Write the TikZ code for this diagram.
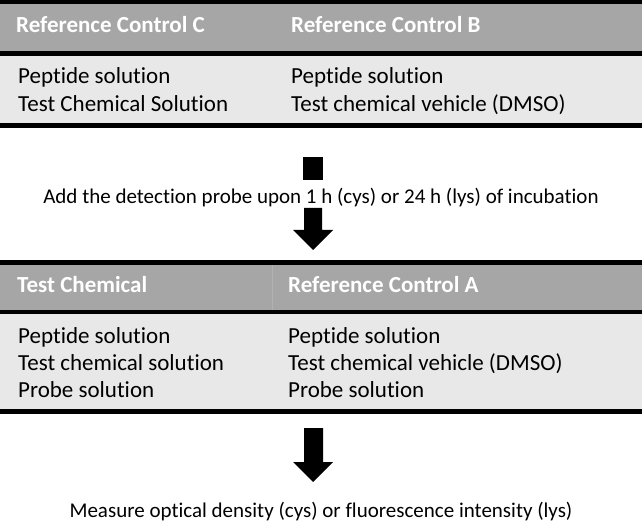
\documentclass[tikz,border=0pt]{standalone}
\usepackage{fontspec}
\setmainfont{Carlito}[Ligatures={NoCommon}]
\definecolor{hdrgray}{HTML}{A6A6A6}
\definecolor{bodygray}{HTML}{E8E8E8}
\definecolor{divgray}{HTML}{B2B2B2}
\begin{document}
\begin{tikzpicture}[x=1pt,y=-1pt,
  rule/.style={fill=black},
  hdr/.style={fill=hdrgray},
  bodyband/.style={fill=bodygray},
  hdrtext/.style={anchor=base west,inner sep=0pt,text=white,font=\fontsize{23}{28}\selectfont\bfseries},
  celltext/.style={anchor=base west,inner sep=0pt,text=black,font=\fontsize{23}{28}\selectfont},
  steptext/.style={anchor=base,inner sep=0pt,text=black,font=\fontsize{21}{26}\selectfont},
  blockarrow/.style={fill=black}]
\useasboundingbox (0,0) rectangle (642,521);
% ---- table 1
\fill[rule] (0,0) rectangle (642,4);
\fill[hdr] (0,4) rectangle (642,51);
\fill[rule] (0,51) rectangle (642,56);
\fill[bodyband] (0,56) rectangle (642,123);
\fill[rule] (0,123) rectangle (642,128);
\node[hdrtext] (hC) at (16,33) {Reference Control C};
\node[hdrtext] (hB) at (291,33) {Reference Control B};
\node[celltext] (c1) at (18,84) {Peptide solution};
\node[celltext] (c2) at (18,112) {Test Chemical Solution};
\node[celltext] (b1) at (291,84) {Peptide solution};
\node[celltext] (b2) at (291,112) {Test chemical vehicle (DMSO)};
% ---- step 1
\fill[blockarrow] (303,157) rectangle (323,180);
\node[steptext] (s1) at (321,204) {Add the detection probe upon 1 h (cys) or 24 h (lys) of incubation};
\fill[blockarrow] (304,208) -- (322,208) -- (322,230) -- (333,230) -- (313,250) -- (293,230) -- (304,230) -- cycle;
% ---- table 2
\fill[rule] (0,260) rectangle (642,265);
\fill[hdr] (0,265) rectangle (642,310);
\fill[divgray] (271.5,265) rectangle (272.5,310);
\fill[rule] (0,310) rectangle (642,314);
\fill[bodyband] (0,314) rectangle (642,409);
\fill[rule] (0,409) rectangle (642,414);
\node[hdrtext] (hT) at (17,292) {Test Chemical};
\node[hdrtext] (hA) at (288,292) {Reference Control A};
\node[celltext] (t1) at (18,343) {Peptide solution};
\node[celltext] (t2) at (18,370) {Test chemical solution};
\node[celltext] (t3) at (18,397) {Probe solution};
\node[celltext] (a1) at (288,343) {Peptide solution};
\node[celltext] (a2) at (288,370) {Test chemical vehicle (DMSO)};
\node[celltext] (a3) at (288,397) {Probe solution};
% ---- step 2
\fill[blockarrow] (304,428) -- (323,428) -- (323,462) -- (333,462) -- (313,482) -- (293,462) -- (304,462) -- cycle;
\node[steptext] (s2) at (321,517) {Measure optical density (cys) or fluorescence intensity (lys)};
\end{tikzpicture}
\end{document}
